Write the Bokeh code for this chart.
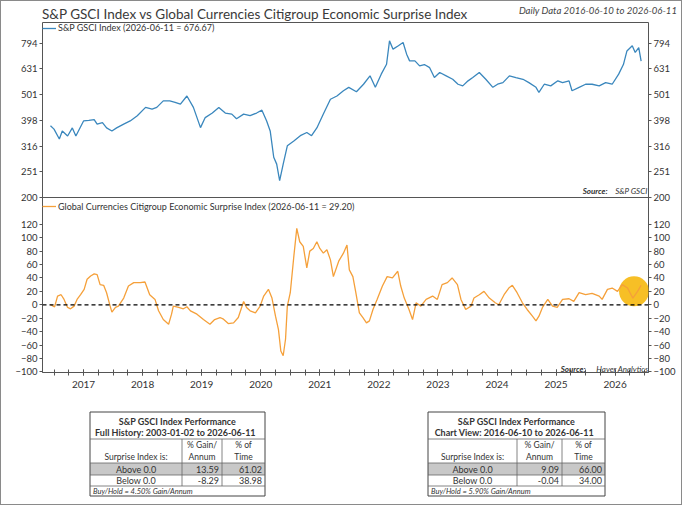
import html

from bokeh.plotting import figure
from bokeh.layouts import column
from bokeh.models import (Range1d, FixedTicker, Label, Legend, LegendItem, Span, Div,
                          LogAxis, LinearAxis, BasicTickFormatter)
from bokeh.core.properties import value
from bokeh.embed import file_html
from bokeh.resources import INLINE

FONT = "Lato"
FONT_V = value(FONT)
BLUE = "#3A87BD"
ORANGE = "#F5A03A"
INK = "#333333"

title_text = "S&P GSCI Index vs Global Currencies Citigroup Economic Surprise Index"
date_text = "Daily Data 2016-06-10 to 2026-06-11"
gsci_name = "S&P GSCI Index (2026-06-11 = 676.67)"
surprise_name = "Global Currencies Citigroup Economic Surprise Index (2026-06-11 = 29.20)"

# S&P GSCI index (decimal years)
gsci_t = [2016.44, 2016.50, 2016.59, 2016.64, 2016.73, 2016.81, 2016.87, 2017.00, 2017.09, 2017.18,
          2017.23, 2017.32, 2017.39, 2017.48, 2017.56, 2017.68, 2017.79, 2017.91, 2018.05, 2018.16,
          2018.24, 2018.35, 2018.46, 2018.55, 2018.64, 2018.75, 2018.86, 2018.98, 2019.06, 2019.18,
          2019.29, 2019.40, 2019.51, 2019.59, 2019.71, 2019.82, 2019.93, 2020.02, 2020.10, 2020.16,
          2020.22, 2020.27, 2020.32, 2020.38, 2020.45, 2020.56, 2020.67, 2020.78, 2020.86, 2020.95,
          2021.06, 2021.18, 2021.29, 2021.40, 2021.49, 2021.62, 2021.74, 2021.85, 2021.94, 2022.04,
          2022.13, 2022.18, 2022.24, 2022.33, 2022.41, 2022.47, 2022.52, 2022.61, 2022.69, 2022.77,
          2022.86, 2022.94, 2023.03, 2023.14, 2023.25, 2023.34, 2023.42, 2023.51, 2023.59, 2023.70,
          2023.81, 2023.93, 2024.01, 2024.10, 2024.21, 2024.32, 2024.44, 2024.54, 2024.66, 2024.71,
          2024.80, 2024.91, 2025.03, 2025.11, 2025.22, 2025.27, 2025.39, 2025.50, 2025.61, 2025.73,
          2025.84, 2025.95, 2026.06, 2026.14, 2026.20, 2026.29, 2026.34, 2026.40, 2026.44]
gsci_v = [379, 368, 337, 362, 346, 372, 346, 396, 398, 401,
          385, 390, 372, 362, 372, 385, 396, 415, 447, 440,
          447, 474, 474, 468, 460, 495, 447, 373, 408, 425,
          447, 425, 421, 404, 421, 415, 425, 436, 396, 362,
          286, 269, 232, 269, 317, 331, 347, 357, 347, 372,
          421, 481, 495, 519, 535, 514, 550, 593, 535, 602,
          658, 811, 753, 776, 799, 720, 678, 678, 648, 656,
          638, 584, 611, 593, 575, 550, 542, 567, 584, 611,
          575, 535, 550, 558, 593, 584, 575, 558, 535, 511,
          550, 542, 567, 558, 567, 519, 535, 550, 550, 542,
          558, 550, 602, 656, 741, 776, 731, 764, 676.67]

# Citigroup economic surprise index
surprise_t = [2016.44, 2016.51, 2016.56, 2016.62, 2016.67, 2016.73, 2016.78, 2016.84, 2016.89, 2016.95,
              2017.01, 2017.06, 2017.12, 2017.18, 2017.23, 2017.28, 2017.34, 2017.39, 2017.45, 2017.48,
              2017.54, 2017.59, 2017.68, 2017.76, 2017.85, 2017.96, 2018.04, 2018.12, 2018.21, 2018.27,
              2018.35, 2018.44, 2018.49, 2018.52, 2018.61, 2018.69, 2018.75, 2018.81, 2018.92, 2019.03,
              2019.14, 2019.22, 2019.31, 2019.36, 2019.45, 2019.54, 2019.62, 2019.71, 2019.76, 2019.82,
              2019.91, 2019.99, 2020.05, 2020.13, 2020.19, 2020.25, 2020.30, 2020.34, 2020.38, 2020.42,
              2020.45, 2020.50, 2020.56, 2020.61, 2020.66, 2020.72, 2020.78, 2020.83, 2020.89, 2020.95,
              2021.00, 2021.06, 2021.12, 2021.18, 2021.23, 2021.32, 2021.40, 2021.46, 2021.50, 2021.56,
              2021.61, 2021.67, 2021.73, 2021.79, 2021.84, 2021.90, 2021.97, 2022.06, 2022.14, 2022.23,
              2022.32, 2022.37, 2022.43, 2022.51, 2022.57, 2022.63, 2022.71, 2022.80, 2022.91, 2022.99,
              2023.07, 2023.16, 2023.24, 2023.33, 2023.39, 2023.47, 2023.56, 2023.61, 2023.70, 2023.78,
              2023.87, 2023.97, 2024.03, 2024.12, 2024.20, 2024.26, 2024.34, 2024.43, 2024.51, 2024.60,
              2024.66, 2024.71, 2024.77, 2024.86, 2024.94, 2025.02, 2025.11, 2025.22, 2025.30, 2025.39,
              2025.50, 2025.61, 2025.73, 2025.78, 2025.87, 2025.95, 2026.04, 2026.12, 2026.21, 2026.30,
              2026.38, 2026.44]
surprise_v = [0, -3, 13, 15, 8, -4, -6, -2, 8, 15,
              23, 38, 43, 46, 45, 30, 29, 18, -2, -11,
              -4, -2, 10, 28, 33, 33, 34, 15, 8, -9,
              -22, -29, -14, -2, -4, -6, -3, -9, -14, -22,
              -29, -22, -19, -21, -28, -27, -19, 5, -4, -9,
              -12, -2, 13, 23, 10, -17, -37, -69, -76, -51,
              -2, 18, 72, 114, 94, 87, 55, 80, 84, 94,
              84, 77, 82, 67, 42, 65, 77, 89, 52, 42,
              18, -12, -19, -27, -24, -7, 8, 28, 42, 40,
              50, 28, 10, -7, -22, 3, -2, 8, 13, 8,
              30, 33, 40, 30, 8, -7, -2, 10, 15, 20,
              10, 3, 0, 15, 25, 29, 18, 3, -7, -17,
              -24, -17, -4, 8, -2, -4, 8, 9, 5, 18,
              15, 17, 13, 8, 23, 25, 20, 30, 25, 10,
              20, 29.2]

highlight_t = [2026.32]
highlight_v = [20]

gsci_ticks = [200, 251, 316, 398, 501, 631, 794]
surprise_ticks = [-100, -80, -60, -40, -20, 0, 20, 40, 60, 80, 100, 120]
years = [2017, 2018, 2019, 2020, 2021, 2022, 2023, 2024, 2025, 2026]

# performance tables
table_heads = ["S&P GSCI Index Performance", "S&P GSCI Index Performance"]
table_spans = ["Full History:   2003-01-02 to 2026-06-11", "Chart View:   2016-06-10 to 2026-06-11"]
row_labels = ["Above 0.0", "Below 0.0"]
full_gain = ["13.59", "-8.29"]
full_time = ["61.02", "38.98"]
view_gain = ["9.09", "-0.04"]
view_time = ["66.00", "34.00"]
buy_hold = ["Buy/Hold = 4.50% Gain/Annum", "Buy/Hold = 5.90% Gain/Annum"]

W = 680
LEFT, RIGHT = 41, 33
OVERLAP = 6   # the bottom panel slides under the top one so "200" sits on the seam
x_range = Range1d(2016.305, 2026.565)


def frame_label(p, x, y, text, size, align="left", style="normal"):
    p.add_layout(Label(x=x, y=y, x_units="canvas", y_units="canvas", text=text,
                       text_font=FONT, text_font_size=size, text_font_style=style,
                       text_color=INK, text_align=align, text_baseline="middle"))


def style_axis(ax):
    ax.axis_line_color = None
    ax.major_tick_line_color = "#555555"
    ax.major_tick_in = 0
    ax.major_tick_out = 3
    ax.minor_tick_line_color = None
    ax.major_label_text_font = FONT
    ax.major_label_text_font_size = "9.5px"
    ax.major_label_text_color = INK
    ax.major_label_standoff = 2


def small_legend(p, r, name, label_height):
    leg = Legend(items=[LegendItem(label=name, renderers=[r])], location="top_left",
                 border_line_color=None, background_fill_alpha=0, margin=0, padding=0,
                 spacing=0, glyph_width=14, glyph_height=8, label_standoff=2,
                 label_height=label_height, label_text_font=FONT, label_text_font_size="9px",
                 label_text_color=INK)
    p.add_layout(leg)


# ---- title row
header = Div(width=W, height=21, margin=0, text=(
    '<div style="position:relative;width:%dpx;height:21px;font-family:Lato;">'
    '<span style="position:absolute;left:41px;top:4px;font-size:13.5px;color:#3a3a3a;'
    'white-space:nowrap;">%s</span>'
    '<span style="position:absolute;right:4px;top:3px;font-size:9.6px;font-style:italic;'
    'color:#444;white-space:nowrap;">%s</span></div>'
    % (W, html.escape(title_text), html.escape(date_text))))

# ---- top panel: S&P GSCI (log scale)
p1 = figure(width=W, height=175 + OVERLAP, x_range=x_range, y_range=Range1d(199.5, 956),
            y_axis_type="log", x_axis_location=None, y_axis_location=None,
            output_backend="svg", toolbar_location=None, margin=0,
            min_border_left=LEFT, min_border_right=RIGHT, min_border_top=0,
            min_border_bottom=OVERLAP)
p1.grid.visible = False
p1.outline_line_color = "#555555"
for side in ("left", "right"):
    ax = LogAxis(ticker=FixedTicker(ticks=gsci_ticks), formatter=BasicTickFormatter())
    style_axis(ax)
    p1.add_layout(ax, side)
r1 = p1.line(gsci_t, gsci_v, line_color=BLUE, line_width=1.3)
small_legend(p1, r1, gsci_name, 9)
frame_label(p1, 606, 168, "Source:", "8px", align="right", style="bold italic")
frame_label(p1, 646, 168, "S&P GSCI", "8px", align="right", style="italic")

# ---- bottom panel: surprise index
p2 = figure(width=W, height=203, x_range=x_range, y_range=Range1d(-101, 160),
            y_axis_location=None, output_backend="svg", toolbar_location=None,
            margin=(-OVERLAP, 0, 0, 0),
            min_border_left=LEFT, min_border_right=RIGHT, min_border_top=0, min_border_bottom=28)
p2.grid.visible = False
p2.outline_line_color = "#555555"
p2.border_fill_alpha = 0
p2.background_fill_alpha = 0
for side in ("left", "right"):
    ax = LinearAxis(ticker=FixedTicker(ticks=surprise_ticks))
    style_axis(ax)
    p2.add_layout(ax, side)
quarters = [y + q / 4 for y in [2016] + years for q in range(4)]
xa = p2.xaxis[0]
xa.ticker = FixedTicker(ticks=years, minor_ticks=quarters)
xa.axis_line_color = "#555555"
xa.major_tick_line_color = "#555555"
xa.minor_tick_line_color = "#555555"
xa.major_tick_in = 3
xa.major_tick_out = 3
xa.minor_tick_in = 3
xa.minor_tick_out = 3
xa.major_label_standoff = 5
xa.major_label_text_font = FONT
xa.major_label_text_font_size = "10px"
xa.major_label_text_color = INK

p2.add_layout(Span(location=0, dimension="width", line_color="black",
                   line_dash="4 3", line_width=1.2))
p2.scatter(highlight_t, highlight_v, size=30, fill_color="#F6B400", fill_alpha=0.85,
           line_color=None)
r2 = p2.line(surprise_t, surprise_v, line_color=ORANGE, line_width=1.3)
small_legend(p2, r2, surprise_name, 18)
frame_label(p2, 584, 171, "Source:", "8px", align="right", style="bold italic")
frame_label(p2, 647, 171, "Haver Analytics", "8px", align="right", style="italic")

# ---- performance tables (data coordinates = page pixels)
p3 = figure(width=W, height=104, x_range=Range1d(42.5, 648.5), y_range=Range1d(504.5, 400.5),
            x_axis_location=None, y_axis_location=None, output_backend="svg",
            toolbar_location=None, min_border_left=LEFT, min_border_right=RIGHT,
            min_border_top=0, min_border_bottom=0)
p3.grid.visible = False
p3.outline_line_color = None


def draw_table(x0, x1, x2, x3, head, span, gains, times, note):
    top, r0, r1_, r2_, r3_, bot = 412, 439, 463, 475, 486, 496
    p3.quad(left=[x0], right=[x3], top=[r1_], bottom=[r2_], fill_color="#C8C8C8", line_color=None)
    p3.quad(left=[x0], right=[x3], top=[top], bottom=[bot], fill_color=None,
            line_color="#444444", line_width=1)
    p3.segment(x0=[x0, x0, x0, x0, x1, x2], y0=[r0, r1_, r2_, r3_, r0, r0],
               x1=[x3, x3, x3, x3, x1, x2], y1=[r0, r1_, r2_, r3_, r3_, r3_],
               line_color="#666666", line_width=0.8)
    cx = (x0 + x3) / 2
    p3.text(x=[cx], y=[421], text=[head], text_font=FONT_V, text_font_size="9px",
            text_font_style="bold", text_color=INK, text_align="center", text_baseline="middle")
    p3.text(x=[cx], y=[432], text=[span], text_font=FONT_V, text_font_size="9px",
            text_font_style="bold", text_color=INK, text_align="center", text_baseline="middle")
    p3.text(x=[(x1 + x2) / 2, (x1 + x2) / 2, (x2 + x3) / 2, (x2 + x3) / 2, (x0 + x1) / 2],
            y=[445, 457, 445, 457, 457], text=["% Gain/", "Annum", "% of", "Time", "Surprise Index is:"],
            text_font=FONT_V, text_font_size="8.5px", text_color=INK,
            text_align="center", text_baseline="middle")
    p3.text(x=[(x0 + x1) / 2] * 2, y=[469, 480.5], text=row_labels, text_font=FONT_V,
            text_font_size="9px", text_color=INK, text_align="center", text_baseline="middle")
    p3.text(x=[x2 - 3] * 2 + [x3 - 3] * 2, y=[469, 480.5, 469, 480.5], text=gains + times,
            text_font=FONT_V, text_font_size="9px", text_color=INK,
            text_align="right", text_baseline="middle")
    p3.text(x=[x0 + 3], y=[491], text=[note], text_font=FONT_V, text_font_size="7.5px",
            text_font_style="italic", text_color=INK, text_align="left", text_baseline="middle")


draw_table(90, 182, 222, 265, table_heads[0], table_spans[0], full_gain, full_time, buy_hold[0])
draw_table(428, 517, 562, 605, table_heads[1], table_spans[1], view_gain, view_time, buy_hold[1])

layout = column(header, p1, p2, p3, spacing=0,
                styles={"border": "1.5px solid #8a8a8a"})
open("out.html", "w").write(file_html(layout, INLINE))
